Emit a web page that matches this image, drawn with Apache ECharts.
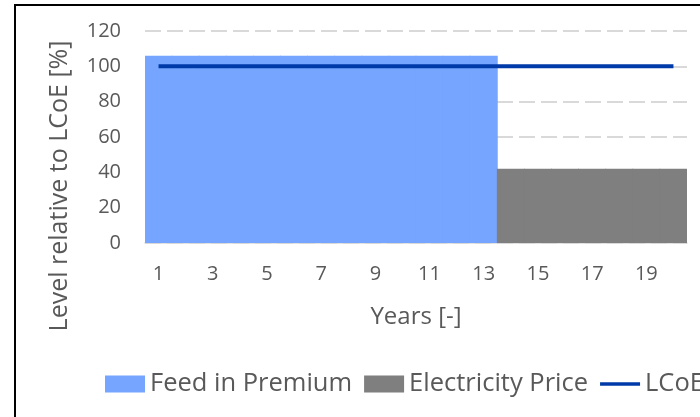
<!DOCTYPE html>
<html>
<head>
<meta charset="utf-8">
<script src="https://cdn.jsdelivr.net/npm/echarts@6/dist/echarts.min.js"></script>
<style>
  html, body { margin: 0; padding: 0; background: #fff; }
  #chart { width: 700px; height: 417px; }
</style>
</head>
<body>
<div id="chart"></div>
<script>
// Years of operation
const years = ['1','2','3','4','5','6','7','8','9','10','11','12','13','14','15','16','17','18','19','20'];
// Remuneration levels relative to LCoE [%]
const feedInPremium = [106,106,106,106,106,106,106,106,106,106,106,106,106,'-','-','-','-','-','-','-'];
const electricityPrice = ['-','-','-','-','-','-','-','-','-','-','-','-','-',42,42,42,42,42,42,42];
const lcoe = [100,100,100,100,100,100,100,100,100,100,100,100,100,100,100,100,100,100,100,100];
const yMin = 0, yMax = 120, yStep = 20;

const FONT = 'Open Sans';
const TEXT = '#595959';
const BLUE = '#75A5FE';
const GREY = '#7F7F7F';
const NAVY = '#003AA8';

const chart = echarts.init(document.getElementById('chart'), null, { renderer: 'canvas' });

// Bars are made a touch wider than one category so neighbouring years join without seams
const gridLeft = 145, gridRight = 13;
const slotWidth = (700 - gridLeft - gridRight) / years.length;

chart.setOption({
  animation: false,
  backgroundColor: '#ffffff',
  textStyle: { fontFamily: FONT, color: TEXT },
  grid: { left: gridLeft, right: gridRight, top: 31, bottom: 174, containLabel: false },
  xAxis: {
    type: 'category',
    data: years,
    boundaryGap: true,
    name: 'Years [-]',
    nameLocation: 'middle',
    nameGap: 62,
    nameTextStyle: { fontFamily: FONT, fontSize: 24, color: TEXT },
    axisLine: { show: true, lineStyle: { color: '#d9d9d9', width: 1.5 } },
    axisTick: { show: false },
    axisLabel: { interval: 1, margin: 21, fontFamily: FONT, fontSize: 20, color: TEXT },
    splitLine: { show: false }
  },
  yAxis: {
    type: 'value',
    min: yMin,
    max: yMax,
    interval: yStep,
    axisLine: { show: false },
    axisTick: { show: false },
    axisLabel: { margin: 24, fontFamily: FONT, fontSize: 20, color: TEXT },
    splitLine: { show: true, lineStyle: { color: '#d9d9d9', width: 2, type: [16, 6] } }
  },
  legend: {
    left: 105,
    top: 371,
    width: 1200,
    padding: 0,
    orient: 'horizontal',
    itemWidth: 40,
    itemHeight: 17,
    itemGap: 12,
    textStyle: { fontFamily: FONT, fontSize: 25.5, color: TEXT },
    data: [
      { name: 'Feed in Premium', icon: 'rect' },
      { name: 'Electricity Price', icon: 'rect' },
      { name: 'LCoE', icon: 'path://M0,0L44,0L44,4L0,4Z' }
    ]
  },
  graphic: [
    {
      type: 'text',
      x: 60,
      y: 186,
      rotation: Math.PI / 2,
      style: {
        text: 'Level relative to LCoE [%]',
        font: '25px "Open Sans"',
        fill: TEXT,
        textAlign: 'center',
        textVerticalAlign: 'middle'
      }
    },
    {
      type: 'rect',
      shape: { x: 15, y: 5, width: 900, height: 700 },
      style: { fill: 'transparent', stroke: '#000000', lineWidth: 2 },
      silent: true
    }
  ],
  series: [
    {
      name: 'Feed in Premium',
      type: 'bar',
      data: feedInPremium,
      barGap: '-100%',
      barWidth: slotWidth + 0.9,
      itemStyle: { color: BLUE }
    },
    {
      name: 'Electricity Price',
      type: 'bar',
      data: electricityPrice,
      barGap: '-100%',
      barWidth: slotWidth + 0.9,
      itemStyle: { color: GREY }
    },
    {
      name: 'LCoE',
      type: 'line',
      data: lcoe,
      symbol: 'none',
      lineStyle: { color: NAVY, width: 4 },
      itemStyle: { color: NAVY },
      z: 5
    }
  ]
});
</script>
</body>
</html>
